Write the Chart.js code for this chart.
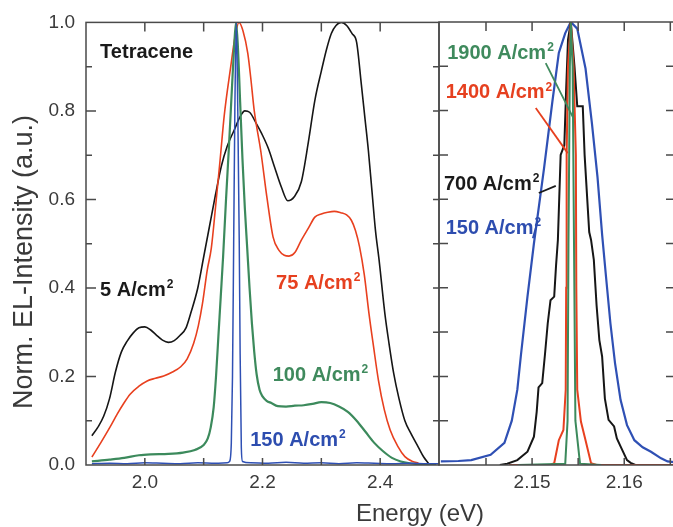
<!DOCTYPE html>
<html><head><meta charset="utf-8">
<script src="https://cdn.jsdelivr.net/npm/chart.js@4/dist/chart.umd.min.js"></script>
<style>
html,body{margin:0;padding:0;background:#fff;overflow:hidden;width:673px;height:527px}
#wrap{position:relative;width:673px;height:527px;overflow:hidden}
#cl{position:absolute;left:0;top:0;width:673px;height:527px}
#cr{position:absolute;left:420px;top:0;width:260px;height:527px}
</style></head><body>
<div id="wrap"><canvas id="cl" width="673" height="527"></canvas><canvas id="cr" width="260" height="527"></canvas></div>
<script>
// ---------- data (energy in eV, normalized EL intensity) ----------
// Left panel
const E5 = [1.91,1.92,1.93,1.94,1.95,1.96,1.97,1.98,1.99,2.0,2.01,2.02,2.03,2.04,2.05,2.06,2.07,2.078,2.09,2.1,2.11,2.12,2.13,2.14,2.152,2.162,2.17,2.178,2.19,2.2,2.21,2.22,2.232,2.243,2.254,2.266,2.278,2.289,2.3,2.309,2.317,2.325,2.334,2.343,2.352,2.36,2.368,2.374,2.38,2.386,2.392,2.398,2.408,2.415,2.423,2.432,2.442,2.452,2.465,2.474,2.482];
const I5 = [0.066,0.085,0.11,0.15,0.21,0.255,0.28,0.298,0.31,0.312,0.305,0.293,0.282,0.277,0.281,0.293,0.31,0.343,0.40,0.47,0.54,0.61,0.675,0.72,0.757,0.787,0.80,0.797,0.77,0.745,0.715,0.675,0.628,0.597,0.606,0.64,0.73,0.824,0.89,0.94,0.975,0.993,1.0,0.993,0.975,0.955,0.86,0.785,0.71,0.62,0.53,0.465,0.342,0.275,0.207,0.15,0.10,0.072,0.04,0.018,0.004];

const E75 = [1.91,1.925,1.941,1.953,1.964,1.975,1.99,2.004,2.018,2.032,2.047,2.061,2.072,2.083,2.091,2.098,2.106,2.113,2.12,2.128,2.135,2.146,2.153,2.16,2.167,2.175,2.18,2.186,2.197,2.208,2.218,2.228,2.237,2.245,2.255,2.266,2.278,2.289,2.3,2.311,2.322,2.333,2.343,2.351,2.358,2.365,2.373,2.381,2.389,2.397,2.407,2.417,2.43,2.442,2.455,2.465];
const I75 = [0.018,0.05,0.086,0.115,0.139,0.16,0.178,0.19,0.196,0.201,0.21,0.222,0.24,0.275,0.315,0.365,0.44,0.49,0.58,0.69,0.79,0.9,0.965,1.0,0.98,0.93,0.875,0.80,0.71,0.60,0.515,0.485,0.474,0.472,0.48,0.508,0.535,0.56,0.567,0.571,0.573,0.57,0.565,0.553,0.53,0.493,0.43,0.342,0.265,0.192,0.125,0.079,0.042,0.019,0.008,0.005];

const E100 = [1.91,1.94,1.965,1.99,2.01,2.04,2.065,2.085,2.1,2.107,2.112,2.117,2.121,2.125,2.129,2.133,2.138,2.143,2.148,2.152,2.155,2.158,2.162,2.166,2.17,2.174,2.178,2.182,2.186,2.19,2.195,2.2,2.207,2.215,2.226,2.24,2.255,2.27,2.285,2.3,2.315,2.33,2.345,2.36,2.375,2.39,2.405,2.42,2.435,2.45,2.465,2.48,2.495];
const I100 = [0.008,0.012,0.016,0.022,0.024,0.025,0.028,0.034,0.045,0.06,0.085,0.13,0.2,0.29,0.38,0.47,0.6,0.72,0.85,0.95,1.0,0.95,0.82,0.69,0.58,0.49,0.4,0.32,0.255,0.205,0.17,0.155,0.145,0.14,0.133,0.132,0.134,0.135,0.138,0.142,0.14,0.132,0.12,0.1,0.075,0.05,0.031,0.016,0.008,0.004,0.002,0.001,0.0];

const E150L = [1.91,1.94,1.97,2.0,2.03,2.06,2.09,2.12,2.14,2.144,2.147,2.149,2.151,2.153,2.1555,2.158,2.1605,2.162,2.164,2.166,2.18,2.21,2.24,2.27,2.3,2.33,2.36,2.39,2.42,2.45,2.48,2.5];
const I150L = [0.003,0.004,0.003,0.005,0.004,0.003,0.005,0.004,0.005,0.008,0.05,0.2,0.5,0.8,1.0,0.8,0.5,0.25,0.04,0.008,0.005,0.004,0.006,0.004,0.005,0.003,0.005,0.004,0.003,0.004,0.003,0.003];

// Right panel (zoom on the narrowed peak)
const E150R = [2.1401,2.142,2.1434,2.1455,2.147,2.1478,2.1484,2.1488,2.1495,2.1502,2.1513,2.1522,2.1529,2.1536,2.1542,2.1549,2.1558,2.1565,2.1571,2.1576,2.158,2.1585,2.159,2.1596,2.1603,2.1611,2.162,2.1629,2.164,2.1647,2.1655];
const I150R = [0.008,0.009,0.011,0.023,0.05,0.1,0.17,0.25,0.38,0.5,0.67,0.82,0.93,0.975,1.0,0.985,0.895,0.77,0.65,0.52,0.43,0.32,0.23,0.147,0.09,0.056,0.04,0.03,0.015,0.008,0.006];

const E700 = [2.1465,2.1473,2.1484,2.1495,2.1502,2.1505,2.1507,2.1511,2.1514,2.1517,2.152,2.1524,2.1526,2.1528,2.1531,2.1535,2.1537,2.1539,2.1542,2.1546,2.1549,2.1555,2.1557,2.1562,2.1564,2.1567,2.157,2.1573,2.1576,2.1579,2.1583,2.1589,2.1592,2.1596,2.1603,2.1607,2.1612];
const I700 = [0.0,0.003,0.011,0.03,0.064,0.12,0.175,0.185,0.25,0.32,0.372,0.38,0.45,0.508,0.70,0.722,0.85,0.96,1.0,0.90,0.81,0.81,0.70,0.526,0.508,0.463,0.36,0.282,0.245,0.15,0.102,0.087,0.06,0.042,0.011,0.005,0.0];

const E1400 = [2.1475,2.152,2.1524,2.1529,2.1534,2.15365,2.1537,2.15375,2.1539,2.1542,2.1545,2.15475,2.1548,2.1549,2.1553,2.1558,2.1564,2.157,2.1655];
const I1400 = [0.0,0.0,0.004,0.056,0.079,0.17,0.4,0.7,0.9,1.0,0.9,0.7,0.4,0.17,0.098,0.056,0.004,0.0,0.0];

const E1900 = [2.1485,2.1536,2.15385,2.15395,2.1541,2.1542,2.1544,2.15455,2.1547,2.1552,2.1575];
const I1900 = [0.0,0.003,0.1,0.5,0.9,1.0,0.9,0.5,0.1,0.003,0.0];

// ---------- axes / ticks ----------
const leftRange = [1.9, 2.5];
const rightRange = [2.1399, 2.1654];
const yRange = [0, 1];
const leftXLabels = [2.0, 2.2, 2.4];
const rightXLabels = [2.15, 2.16];
const yLabels = [0.0, 0.2, 0.4, 0.6, 0.8, 1.0];
const leftXMarks = [2.0, 2.1, 2.2, 2.3, 2.4];
const rightXMarks = [2.145, 2.15, 2.155, 2.16, 2.165];
const yMarks = [0.1, 0.2, 0.3, 0.4, 0.5, 0.6, 0.7, 0.8, 0.9];

// ---------- text ----------
const yTitle = 'Norm. EL-Intensity (a.u.)';
const xTitle = 'Energy (eV)';
const leftLabels = [
  {t:'Tetracene', x:1.924, y:0.932, c:'#1a1a1a', sup:false},
  {t:'5 A/cm', x:1.924, y:0.395, c:'#1a1a1a', sup:true},
  {t:'75 A/cm', x:2.2231, y:0.411, c:'#e6401f', sup:true},
  {t:'100 A/cm', x:2.2174, y:0.203, c:'#3f8a5d', sup:true},
  {t:'150 A/cm', x:2.1791, y:0.056, c:'#2d4daf', sup:true}
];
const rightLabels = [
  {t:'1900 A/cm', x:2.14079, y:0.930, c:'#3f8a5d', sup:true},
  {t:'1400 A/cm', x:2.14062, y:0.840, c:'#e6401f', sup:true},
  {t:'700 A/cm', x:2.14043, y:0.634, c:'#1a1a1a', sup:true},
  {t:'150 A/cm', x:2.14062, y:0.535, c:'#2d4daf', sup:true}
];
const rightLeaders = [
  {a:[2.15148,0.907], b:[2.15441,0.786], c:'#3f8a5d'},
  {a:[2.1504,0.806], b:[2.15387,0.704], c:'#e6401f'},
  {a:[2.15073,0.614], b:[2.15257,0.630], c:'#1a1a1a'},
  {a:[2.15008,0.512], b:[2.15062,0.551], c:'#2d4daf'}
];

// ---------- styling ----------
const FONT = "'Liberation Sans', Arial, Helvetica, sans-serif";
const AXIS = '#4a4a4a';
const TXT = '#3a3a3a';
const C_BLACK = '#161616', C_RED = '#e8401f', C_GREEN = '#3c8a5c', C_BLUE = '#2f50b4';

function pts(E, I){ const n = Math.min(E.length, I.length); const r=[]; for(let i=0;i<n;i++) r.push({x:E[i], y:I[i]}); return r; }

function ds(E, I, color, w, smooth){
  return {data: pts(E,I), borderColor: color, borderWidth: w, pointRadius: 0, fill: false,
    tension: smooth ? 0.4 : 0, cubicInterpolationMode: smooth ? 'monotone' : 'default'};
}

function framePlugin(xMarks, cfg){
  return {
    id: 'frameTicks',
    afterDatasetsDraw(chart){
      const {ctx, chartArea: a} = chart; const x = chart.scales.x, y = chart.scales.y;
      ctx.save();
      ctx.strokeStyle = AXIS; ctx.lineWidth = 1.5;
      ctx.strokeRect(a.left, a.top, a.right - a.left, a.bottom - a.top);
      ctx.beginPath();
      xMarks.forEach(v => { const px = x.getPixelForValue(v);
        ctx.moveTo(px, a.bottom); ctx.lineTo(px, a.bottom - cfg.bot);
        ctx.moveTo(px, a.top); ctx.lineTo(px, a.top + cfg.top); });
      yMarks.forEach(v => { const py = y.getPixelForValue(v);
        const major = Math.abs(v*5 - Math.round(v*5)) < 1e-6;
        const ll = major ? cfg.leftMajor : cfg.leftMinor;
        ctx.moveTo(a.left, py); ctx.lineTo(a.left + ll, py);
        ctx.moveTo(a.right, py); ctx.lineTo(a.right - cfg.right, py); });
      ctx.stroke();
      ctx.restore();
    }
  };
}

function labelPlugin(labels, leaders, titles){
  return {
    id: 'labels',
    afterDraw(chart){
      const {ctx} = chart; const x = chart.scales.x, y = chart.scales.y;
      ctx.save();
      (leaders||[]).forEach(l => {
        ctx.strokeStyle = l.c; ctx.lineWidth = 1.8; ctx.beginPath();
        ctx.moveTo(x.getPixelForValue(l.a[0]), y.getPixelForValue(l.a[1]));
        ctx.lineTo(x.getPixelForValue(l.b[0]), y.getPixelForValue(l.b[1]));
        ctx.stroke(); });
      labels.forEach(l => {
        const px = x.getPixelForValue(l.x), py = y.getPixelForValue(l.y);
        ctx.fillStyle = l.c; ctx.font = 'bold 20px ' + FONT;
        ctx.textAlign = 'left'; ctx.textBaseline = 'middle';
        ctx.fillText(l.t, px, py);
        if (l.sup){ const w = ctx.measureText(l.t).width;
          ctx.font = 'bold 12px ' + FONT; ctx.textBaseline = 'alphabetic';
          ctx.fillText('2', px + w + 1, py - 2); }
      });
      if (titles){
        ctx.fillStyle = TXT; ctx.textAlign = 'center'; ctx.textBaseline = 'middle';
        ctx.font = '24px ' + FONT;
        ctx.fillText(xTitle, 420, 514);
        ctx.save(); ctx.translate(25, 262); ctx.rotate(-Math.PI/2);
        ctx.font = '27px ' + FONT; ctx.fillText(yTitle, 0, 0); ctx.restore();
      }
      ctx.restore();
    }
  };
}

Chart.defaults.font.family = FONT;

function xScale(range, labels, digits){
  return {type:'linear', min: range[0], max: range[1],
    afterBuildTicks: s => { s.ticks = labels.map(v => ({value: v})); },
    afterFit: s => { s.height = 62; },
    grid: {display:false, drawTicks:false}, border: {display:false},
    ticks: {color: TXT, font: {size: 19}, padding: 6, maxRotation: 0, autoSkip: false,
      callback: v => Number(v).toFixed(digits)}};
}

new Chart(document.getElementById('cl'), {
  type: 'line',
  data: {datasets: [
    ds(E150L, I150L, C_BLUE, 1.5, true),
    ds(E100, I100, C_GREEN, 2.2, true),
    ds(E75, I75, C_RED, 1.6, true),
    ds(E5, I5, C_BLACK, 1.6, true)
  ]},
  options: {
    responsive: false, animation: false, devicePixelRatio: 1,
    layout: {padding: {left: 0, right: 234, top: 22, bottom: 0}},
    plugins: {legend: {display:false}, tooltip: {enabled:false}},
    scales: {
      x: xScale(leftRange, leftXLabels, 1),
      y: {type:'linear', min: yRange[0], max: yRange[1],
        afterBuildTicks: s => { s.ticks = yLabels.map(v => ({value: v})); },
        afterFit: s => { s.width = 86; },
        grid: {display:false, drawTicks:false}, border: {display:false},
        ticks: {color: TXT, font: {size: 19}, padding: 11, callback: v => Number(v).toFixed(1)}}
    }
  },
  plugins: [framePlugin(leftXMarks, {bot:7, top:9, leftMajor:10, leftMinor:6, right:6}),
            labelPlugin(leftLabels, null, true)]
});

new Chart(document.getElementById('cr'), {
  type: 'line',
  data: {datasets: [
    ds(E1900, I1900, C_GREEN, 2, false),
    ds(E1400, I1400, C_RED, 2, false),
    ds(E700, I700, C_BLACK, 2, false),
    ds(E150R, I150R, C_BLUE, 2.2, false)
  ]},
  options: {
    responsive: false, animation: false, devicePixelRatio: 1,
    layout: {padding: {left: 19, right: 6, top: 22, bottom: 0}},
    plugins: {legend: {display:false}, tooltip: {enabled:false}},
    scales: {
      x: xScale(rightRange, rightXLabels, 2),
      y: {type:'linear', display: false, min: yRange[0], max: yRange[1]}
    }
  },
  plugins: [framePlugin(rightXMarks, {bot:7, top:9, leftMajor:9, leftMinor:9, right:8}),
            labelPlugin(rightLabels, rightLeaders, false)]
});
</script></body></html>
